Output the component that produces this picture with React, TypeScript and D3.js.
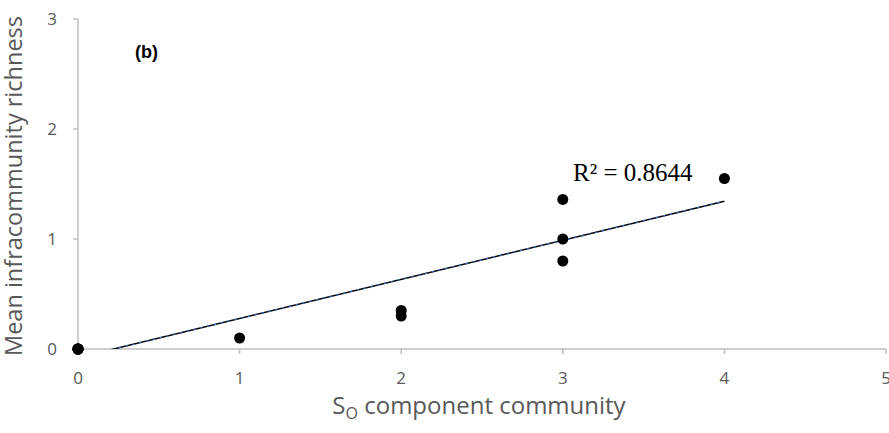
import * as d3 from "d3";

// observed points (several overlap at the origin)
const xValues = [0, 0, 0, 0, 0, 1, 2, 2, 3, 3, 3, 4];
const yValues = [0, 0, 0, 0, 0, 0.1, 0.35, 0.3, 1.36, 1.0, 0.8, 1.55];
const xTicks = [0, 1, 2, 3, 4, 5];
const yTicks = [0, 1, 2, 3];
const r2Label = "R² = 0.8644";
const panelLabel = "(b)";
const yTitle = "Mean infracommunity richness";

const W = 889;
const H = 433;
const M = { top: 19, right: 3, bottom: 84, left: 78 };

const AXIS = "#bfbfbf";
const TEXT = "#595959";
const SANS = "'Open Sans', 'Noto Sans', sans-serif";

function linearFit(xs: number[], ys: number[]) {
  const mx = d3.mean(xs) as number;
  const my = d3.mean(ys) as number;
  let sxy = 0;
  let sxx = 0;
  xs.forEach((x, i) => {
    sxy += (x - mx) * (ys[i] - my);
    sxx += (x - mx) * (x - mx);
  });
  const slope = sxy / sxx;
  return { slope, intercept: my - slope * mx };
}

export default function App() {
  const x = d3.scaleLinear().domain([0, 5]).range([M.left, W - M.right]);
  const y = d3.scaleLinear().domain([0, 3]).range([H - M.bottom, M.top]);
  const [x0, x1] = [x.range()[0], x.range()[1]];
  const [yb, yt] = [y.range()[0], y.range()[1]];

  const fit = linearFit(xValues, yValues);
  const xMin = d3.min(xValues) as number;
  const xMax = d3.max(xValues) as number;
  const trend = d3.line<number>()
    .x(d => x(d))
    .y(d => y(fit.slope * d + fit.intercept));
  const trendPath = trend([xMin, xMax]) ?? "";

  return (
    <svg width={W} height={H} style={{ position: "absolute", left: 0, top: 0, background: "#fff" }}>
      <defs>
        <clipPath id="plot">
          <rect x={x0} y={yt} width={x1 - x0} height={yb - yt} />
        </clipPath>
      </defs>

      {/* axes */}
      <line x1={x0} x2={x0} y1={yt} y2={yb} stroke={AXIS} strokeWidth={1.5} />
      <line x1={x0} x2={x1} y1={yb} y2={yb} stroke={AXIS} strokeWidth={1.5} />
      {yTicks.map(t => (
        <g key={"y" + t}>
          <line x1={x0 - 5} x2={x0} y1={y(t)} y2={y(t)} stroke={AXIS} strokeWidth={1.5} />
          <text x={x0 - 21} y={y(t)} dy="0.35em" textAnchor="end" fontFamily={SANS}
            fontSize={17} fill={TEXT}>{t}</text>
        </g>
      ))}
      {xTicks.map(t => (
        <g key={"x" + t}>
          <line x1={x(t)} x2={x(t)} y1={yb} y2={yb + 5} stroke={AXIS} strokeWidth={1.5} />
          <text x={x(t)} y={yb + 35} textAnchor="middle" fontFamily={SANS}
            fontSize={17} fill={TEXT}>{t}</text>
        </g>
      ))}

      {/* trendline */}
      <g clipPath="url(#plot)">
        <path d={trendPath} fill="none" stroke="#000" strokeWidth={1.5} />
        <path d={trendPath} fill="none" stroke="#4472c4" strokeWidth={1.5} strokeDasharray="2 5" />
      </g>

      {/* points */}
      {xValues.map((xv, i) => (
        <circle key={i} cx={x(xv)} cy={y(yValues[i])} r={5.5} fill="#000" />
      ))}

      <text x={573} y={181} fontFamily="'Liberation Serif', 'Times New Roman', serif"
        fontSize={25} fill="#000">{r2Label}</text>

      <text x={135} y={58} fontFamily="'Liberation Sans', Arial, sans-serif" fontWeight="bold"
        fontSize={18} fill="#000">{panelLabel}</text>

      <text transform={`translate(22,${(yt + yb) / 2 + 2}) rotate(-90)`} textAnchor="middle"
        fontFamily={SANS} fontSize={23.5} fill={TEXT}>{yTitle}</text>

      <text x={479} y={414} textAnchor="middle" fontFamily={SANS} fontSize={24} fill={TEXT}>
        S<tspan fontSize={16} dy={5}>O</tspan><tspan dy={-5}> component community</tspan>
      </text>
    </svg>
  );
}
